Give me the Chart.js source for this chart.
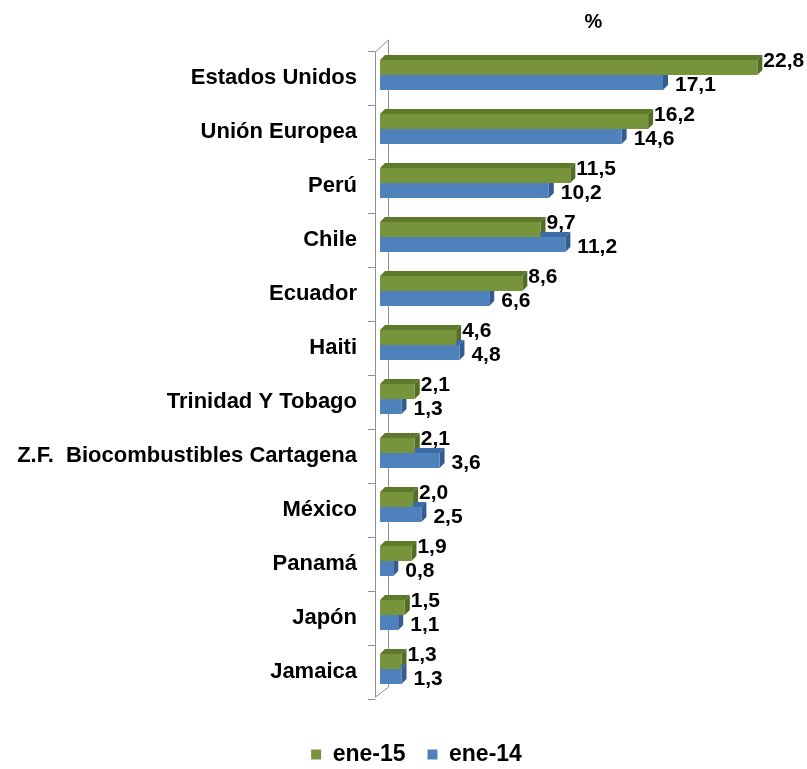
<!DOCTYPE html>
<html lang="es">
<head>
<meta charset="UTF-8">
<title>Exportaciones por destino</title>
<script src="https://cdnjs.cloudflare.com/ajax/libs/Chart.js/4.4.1/chart.umd.min.js"></script>
<style>
  html, body { margin: 0; padding: 0; background: #fff; }
</style>
</head>
<body>
<canvas id="grafico" width="807" height="769"></canvas>

<script>
const paises = ['Estados Unidos', 'Unión Europea', 'Perú', 'Chile', 'Ecuador', 'Haiti',
  'Trinidad Y Tobago', 'Z.F.  Biocombustibles Cartagena', 'México', 'Panamá', 'Japón', 'Jamaica'];
const ene15 = [22.8, 16.2, 11.5, 9.7, 8.6, 4.6, 2.1, 2.1, 2.0, 1.9, 1.5, 1.3];
const ene14 = [17.1, 14.6, 10.2, 11.2, 6.6, 4.8, 1.3, 3.6, 2.5, 0.8, 1.1, 1.3];
const series = ['ene-15', 'ene-14'];

const FUENTE = '"Liberation Sans", Arial, sans-serif';
const PROF = 5;    // profundidad del efecto 3D
const SUBIR = 3;   // las caras frontales quedan un poco por encima del centro
const colores = ['#77933c', '#4f81bd'];
const caras = [
  { arriba: '#5d7a2a', lado: '#536d25' },
  { arriba: '#3e6ca6', lado: '#345c90' }
];
// desplazamiento de las etiquetas de valor respecto al final de cada barra
const posEtiqueta = [{ dx: 6, dy: -6 }, { dx: 12, dy: 3 }];

const fmt = v => v.toFixed(1).replace('.', ',');

const barras3d = {
  id: 'barras3d',
  afterLayout(chart) {
    // la leyenda va algo corrida a la derecha
    chart.legend.left += 26;
  },
  beforeDatasetsDraw(chart) {
    const { ctx, chartArea: a, scales: { y } } = chart;

    // paredes del eje de categorias
    const fx = a.left - 5, bx = a.left + 8;
    ctx.save();
    ctx.strokeStyle = '#8f8f8f';
    ctx.lineWidth = 1;
    ctx.beginPath();
    ctx.moveTo(fx + 0.5, a.top + 1);
    ctx.lineTo(fx + 0.5, a.bottom - 2);
    ctx.lineTo(bx + 0.5, a.bottom - 12);
    ctx.lineTo(bx + 0.5, a.top - 11);
    ctx.lineTo(fx + 0.5, a.top + 1);
    for (let i = 0; i <= paises.length; i++) {
      const py = Math.round(y.getPixelForValue(i - 0.5)) + 0.5;
      ctx.moveTo(fx - 7, py);
      ctx.lineTo(fx + 0.5, py);
    }
    ctx.stroke();
    ctx.restore();

    // caras superior y lateral de cada barra
    ctx.save();
    ctx.translate(0, -SUBIR);
    chart.data.datasets.forEach((ds, i) => {
      chart.getDatasetMeta(i).data.forEach(bar => {
        const top = bar.y - bar.height / 2;
        const bot = bar.y + bar.height / 2;
        ctx.fillStyle = caras[i].arriba;
        ctx.beginPath();
        ctx.moveTo(bar.base, top);
        ctx.lineTo(bar.x, top);
        ctx.lineTo(bar.x + PROF, top - PROF);
        ctx.lineTo(bar.base + PROF, top - PROF);
        ctx.closePath();
        ctx.fill();
        ctx.fillStyle = caras[i].lado;
        ctx.beginPath();
        ctx.moveTo(bar.x, top);
        ctx.lineTo(bar.x + PROF, top - PROF);
        ctx.lineTo(bar.x + PROF, bot - PROF);
        ctx.lineTo(bar.x, bot);
        ctx.closePath();
        ctx.fill();
      });
    });
  },
  afterDatasetsDraw(chart) {
    const { ctx } = chart;
    ctx.restore();

    ctx.save();
    ctx.font = 'bold 21px ' + FUENTE;
    ctx.fillStyle = '#000';
    ctx.textAlign = 'left';
    ctx.textBaseline = 'middle';
    chart.data.datasets.forEach((ds, i) => {
      chart.getDatasetMeta(i).data.forEach((bar, j) => {
        const p = posEtiqueta[i];
        ctx.fillText(fmt(ds.data[j]), bar.x + p.dx, bar.y - SUBIR + p.dy);
      });
    });
    ctx.restore();
  }
};

new Chart(document.getElementById('grafico'), {
  type: 'bar',
  data: {
    labels: paises,
    datasets: [
      { label: series[0], data: ene15, backgroundColor: colores[0] },
      { label: series[1], data: ene14, backgroundColor: colores[1] }
    ]
  },
  options: {
    indexAxis: 'y',
    responsive: false,
    animation: false,
    devicePixelRatio: 1,
    categoryPercentage: 0.555,
    barPercentage: 1,
    layout: { padding: { left: 0, right: 0, top: 0, bottom: -7 } },
    scales: {
      x: {
        position: 'top',
        min: 0,
        max: 25.8,
        grid: { display: false, drawTicks: false },
        border: { display: false },
        ticks: { display: false },
        title: {
          display: true,
          text: '%',
          color: '#000',
          font: { family: FUENTE, size: 20, weight: 'bold' },
          padding: { top: 10, bottom: 0 }
        },
        afterFit(s) { s.height = 51; }
      },
      relleno: {
        axis: 'x',
        position: 'bottom',
        grid: { display: false, drawTicks: false },
        border: { display: false },
        ticks: { display: false },
        afterFit(s) { s.height = 22; }
      },
      y: {
        grid: { display: false, drawTicks: false },
        border: { display: false },
        ticks: {
          color: '#000',
          padding: 23,
          font: { family: FUENTE, size: 22, weight: 'bold' }
        },
        afterFit(s) { s.width = 380; }
      }
    },
    plugins: {
      legend: {
        position: 'bottom',
        labels: {
          boxWidth: 10,
          boxHeight: 10,
          padding: 22,
          color: '#000',
          font: { family: FUENTE, size: 23, weight: 'bold' }
        }
      },
      tooltip: { enabled: false }
    }
  },
  plugins: [barras3d]
});
</script>
</body>
</html>
